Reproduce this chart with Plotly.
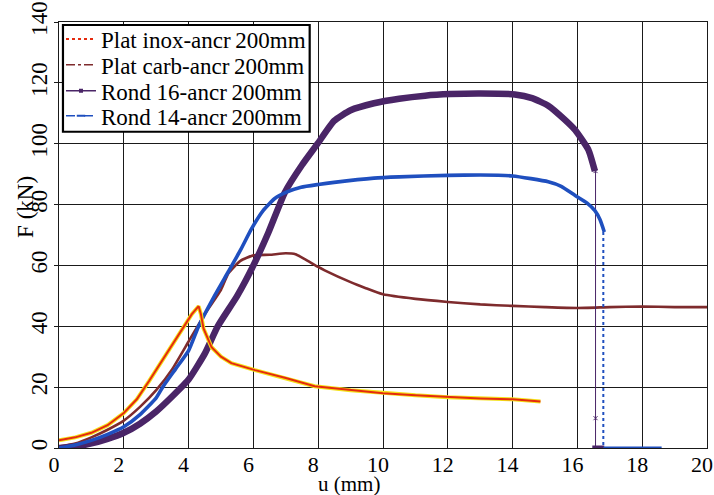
import plotly.graph_objects as go

# ---- data ----
inox_u = [0, 0.5, 1, 1.5, 2, 2.4, 2.78, 3.2, 3.5, 3.85, 4.1, 4.31, 4.38, 4.46, 4.71, 5, 5.32, 6.05, 7, 7.89, 9, 10, 11, 12, 13, 14, 14.86]
inox_F = [2.5, 3.5, 5, 7.5, 11.5, 16, 22, 29, 34, 40, 44, 46.6, 44, 39.3, 33.1, 30, 27.9, 25.6, 23, 20.3, 19, 18, 17.3, 16.7, 16.3, 16, 15.3]

carb_u = [0, 0.5, 1, 1.5, 2, 2.5, 3, 3.5, 4, 4.5, 5, 5.23, 5.6, 6, 6.5, 7, 7.3, 7.6, 8, 8.2, 9, 9.45, 10, 11, 12, 13, 14, 15, 16, 17, 18, 19, 20]
carb_F = [0.5, 1.5, 3.5, 6, 9, 13.5, 19, 26, 35, 44, 52, 57.4, 61.5, 63.3, 63.5, 64, 63.7, 62, 59.5, 58.4, 54.5, 52.6, 50.5, 49, 48, 47.2, 46.7, 46.3, 46, 46.3, 46.5, 46.3, 46.3]

r16_u = [0, 0.5, 1, 1.5, 2, 2.5, 3, 3.5, 4, 4.5, 4.9, 5.5, 6, 6.47, 6.97, 7.5, 7.98, 8.49, 9.0, 9.72, 10.5, 11.3, 12.07, 13, 14.07, 14.6, 15.1, 15.6, 15.93, 16.34, 16.54]
r16_F = [0, 0.5, 1.5, 3, 5, 8, 12, 17, 22.5, 31, 40, 50, 60, 71, 84, 93, 100, 107.5, 111, 113.3, 114.8, 115.8, 116.3, 116.5, 116.2, 115, 112.5, 108, 104.5, 98, 91]
r16_drop_u = [16.56, 16.56, 16.56]
r16_drop_F = [91, 9.8, 0]
r16_base_u = [16.46, 16.83]
r16_base_F = [0, 0]

r14_u = [0, 0.5, 1, 1.5, 2, 2.5, 3, 3.2, 3.6, 4, 4.31, 4.8, 5.23, 5.6, 5.94, 6.3, 6.66, 7.0, 7.47, 8.0, 8.49, 9.72, 10.5, 12, 13, 14, 15.1, 15.5, 15.93, 16.3, 16.54, 16.7, 16.83]
r14_F = [0, 1, 2.5, 4.5, 7, 11, 16.5, 20, 26, 32, 40, 50, 58, 65, 72, 78, 82, 84, 85.7, 86.6, 87.3, 88.7, 89.1, 89.6, 89.7, 89.4, 87.5, 86, 83, 80.5, 78, 75, 71]
r14_drop_u = [16.8, 16.8]
r14_drop_F = [71, 0]
r14_base_u = [16.8, 18.6]
r14_base_F = [0, 0]

legend_names = ["Plat inox-ancr\u2009200mm", "Plat carb-ancr\u2009200mm",
                "Rond 16-ancr\u2009200mm", "Rond 14-ancr\u2009200mm"]

x_ticks = [0, 2, 4, 6, 8, 10, 12, 14, 16, 18, 20]
y_ticks = [0, 20, 40, 60, 80, 100, 120, 140]

RED = "#e52a0e"
YEL = "#f4e11a"
BROWN = "#7e2b2d"
PURPLE = "#4a2567"
BLUE = "#1f4fbf"
SERIF = "Liberation Serif"

L, R, T, B = 59, 1, 21, 47
W, H = 714, 495
pw, ph = W - L - R, H - T - B


def px2paper(px, py):
    return (px - L) / pw, 1 - (py - T) / ph


fig = go.Figure()

sp = dict(shape="spline", smoothing=0.5)

fig.add_trace(go.Scatter(x=carb_u, y=carb_F, mode="lines", line=dict(color=BROWN, width=2.6, **sp), showlegend=False))
fig.add_trace(go.Scatter(x=r16_u, y=r16_F, mode="lines", line=dict(color=PURPLE, width=6.5, **sp), showlegend=False))
fig.add_trace(go.Scatter(x=r16_drop_u, y=r16_drop_F, mode="lines+markers", line=dict(color=PURPLE, width=1),
                         marker=dict(symbol="x-thin", size=4, color=PURPLE, line=dict(color=PURPLE, width=1)),
                         showlegend=False))
fig.add_trace(go.Scatter(x=r16_base_u, y=r16_base_F, mode="lines", line=dict(color=PURPLE, width=5), showlegend=False))
fig.add_trace(go.Scatter(x=r14_u, y=r14_F, mode="lines", line=dict(color=BLUE, width=3.6, **sp), showlegend=False))
fig.add_trace(go.Scatter(x=r14_drop_u, y=r14_drop_F, mode="lines", line=dict(color=BLUE, width=2, dash="dot"), showlegend=False))
fig.add_trace(go.Scatter(x=r14_base_u, y=r14_base_F, mode="lines", line=dict(color=BLUE, width=3), showlegend=False))
fig.add_trace(go.Scatter(x=inox_u, y=inox_F, mode="lines", line=dict(color=YEL, width=4), showlegend=False))
fig.add_trace(go.Scatter(x=inox_u, y=inox_F, mode="lines", line=dict(color=RED, width=2), showlegend=False))

# legend entries (one legend per row so the row spacing matches)
legend_styles = [
    dict(mode="lines", line=dict(color=RED, width=2, dash="dot")),
    dict(mode="lines", line=dict(color=BROWN, width=1.5, dash="dashdot")),
    dict(mode="lines+markers", line=dict(color=PURPLE, width=1.5), marker=dict(symbol="square", size=4, color=PURPLE)),
    dict(mode="lines+markers", line=dict(color=BLUE, width=1.5, dash="dash"),
         marker=dict(symbol="line-ew", size=6, line=dict(color=BLUE, width=2))),
]
row_px = [38, 64, 90, 115]
legend_ids = ["legend", "legend2", "legend3", "legend4"]
legend_layouts = {}
for name, style, lid, ry in zip(legend_names, legend_styles, legend_ids, row_px):
    fig.add_trace(go.Scatter(x=[None], y=[None], name=name, legend=lid, **style))
    lx, ly = px2paper(61, ry)
    legend_layouts[lid] = dict(x=lx, y=ly, xanchor="left", yanchor="middle",
                               bgcolor="rgba(0,0,0,0)", borderwidth=0,
                               font=dict(family=SERIF, size=23, color="black"),
                               itemwidth=30, tracegroupgap=0)

bx0, by0 = px2paper(63, 24)
bx1, by1 = px2paper(312, 131)

ytx, yty = px2paper(25, 206)
xtx, xty = px2paper(352, 484)

fig.update_layout(
    width=W, height=H,
    margin=dict(l=L, r=R, t=T, b=B),
    paper_bgcolor="white", plot_bgcolor="white",
    font=dict(family=SERIF, color="black"),
    showlegend=True,
    xaxis=dict(range=[0, 20], tickvals=x_ticks, ticktext=[str(v) for v in x_ticks],
               showgrid=True, gridcolor="#1a1a1a", gridwidth=1.3,
               showline=True, linecolor="#1a1a1a", linewidth=1.3, mirror=True,
               ticks="", tickfont=dict(family=SERIF, size=22, color="black"),
               ticklabelshift=-5, ticklabeloverflow="allow", ticklabelstandoff=-4,
               zeroline=False, fixedrange=True),
    yaxis=dict(range=[0, 140], tickvals=y_ticks, ticktext=[str(v) for v in y_ticks],
               showgrid=True, gridcolor="#1a1a1a", gridwidth=1.3,
               showline=True, linecolor="#1a1a1a", linewidth=1.3, mirror=True,
               ticks="outside", ticklen=4, tickcolor="#1a1a1a", ticklabelstandoff=-2,
               tickangle=-90, tickfont=dict(family=SERIF, size=23, color="black"),
               zeroline=False, fixedrange=True),
    shapes=[dict(type="rect", xref="paper", yref="paper", x0=bx0, x1=bx1, y0=by1, y1=by0,
                 line=dict(color="black", width=2.2), fillcolor="white", layer="above")],
    annotations=[
        dict(text="F (kN)", x=ytx, y=yty, xref="paper", yref="paper", showarrow=False,
             xanchor="center", yanchor="middle",
             textangle=-90, font=dict(family=SERIF, size=23, color="black")),
        dict(text="u (mm)", x=xtx, y=xty, xref="paper", yref="paper", showarrow=False,
             xanchor="center", yanchor="middle",
             font=dict(family=SERIF, size=21, color="black")),
    ],
    **legend_layouts,
)

fig.write_html("out.html")
